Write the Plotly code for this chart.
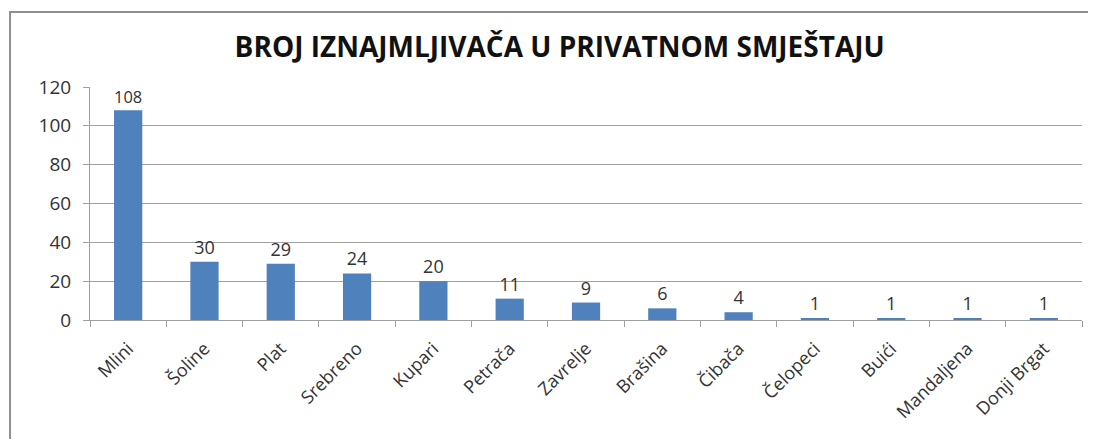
import plotly.graph_objects as go

mjesta = ['Mlini', 'Šoline', 'Plat', 'Srebreno', 'Kupari', 'Petrača', 'Zavrelje',
          'Brašina', 'Čibača', 'Čelopeci', 'Buići', 'Mandaljena', 'Donji Brgat']
broj = [108, 30, 29, 24, 20, 11, 9, 6, 4, 1, 1, 1, 1]
y_ticks = [0, 20, 40, 60, 80, 100, 120]

font = 'Open Sans, Noto Sans, sans-serif'

fig = go.Figure()
fig.add_trace(
    go.Bar(
        x=mjesta,
        y=broj,
        width=0.37,
        marker=dict(color='#4F81BD', line=dict(width=0)),
        text=broj,
        textposition='outside',
        textfont=dict(size=18, color='#333333', family=font),
        cliponaxis=False,
        showlegend=False,
    )
)

fig.update_layout(
    width=1088,
    height=431,
    margin=dict(l=82, r=14, t=79, b=119),
    paper_bgcolor='white',
    plot_bgcolor='white',
    title=dict(
        text='<b>BROJ IZNAJMLJIVAČA U PRIVATNOM SMJEŠTAJU</b>',
        x=0.507, xanchor='center',
        y=0.91, yanchor='middle',
        font=dict(size=28, color='#111111', family=font),
    ),
    font=dict(family=font, color='#333333'),
)

fig.update_yaxes(
    range=[0, 120],
    tickvals=y_ticks,
    showgrid=True,
    gridcolor='#a0a0a0',
    gridwidth=1,
    showline=True,
    linecolor='#a0a0a0',
    ticks='outside',
    ticklen=6,
    tickcolor='#a0a0a0',
    ticklabelstandoff=8,
    tickfont=dict(size=19, color='#333333'),
    zeroline=False,
)

fig.update_xaxes(
    showline=True,
    linecolor='#a0a0a0',
    ticks='outside',
    tickson='boundaries',
    ticklen=6,
    tickcolor='#a0a0a0',
    tickangle=-45,
    ticklabelstandoff=10,
    tickfont=dict(size=18, color='#333333'),
    automargin=False,
)

# okvir grafikona
fig.add_shape(
    type='rect', xref='paper', yref='paper',
    x0=-0.0806, x1=1.02, y0=-1.0, y1=1.322,
    line=dict(color='#8f8f8f', width=2),
    layer='below',
)

fig.write_html("out.html")
